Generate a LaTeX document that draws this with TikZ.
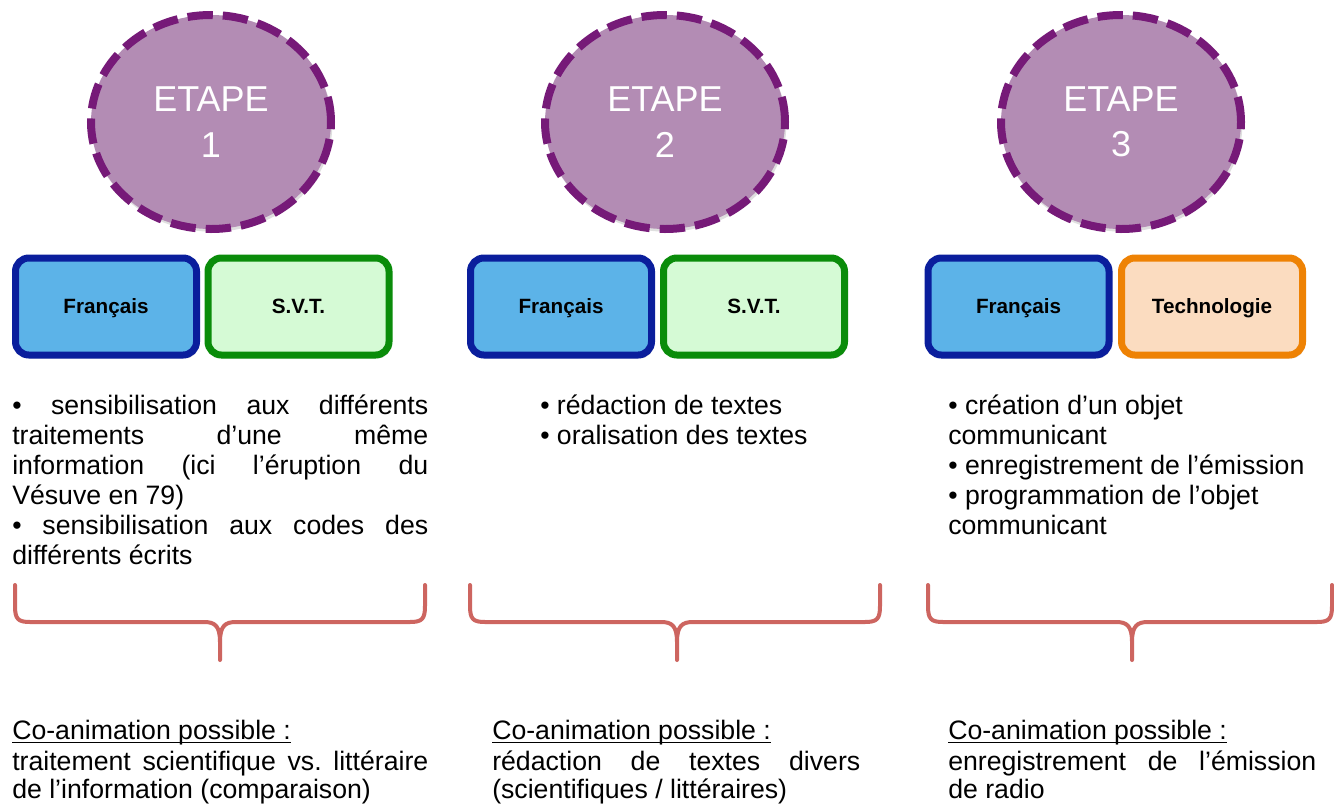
\documentclass[tikz,border=0pt]{standalone}
\usepackage{fontspec}
\setmainfont{Liberation Sans}
\frenchspacing
\usetikzlibrary{shapes.geometric,shadows}
\definecolor{ellfill}{HTML}{B38CB4}
\definecolor{elldraw}{HTML}{761A78}
\definecolor{frfill}{HTML}{5CB3E8}
\definecolor{frdraw}{HTML}{0A1E9C}
\definecolor{svtfill}{HTML}{D5FAD5}
\definecolor{svtdraw}{HTML}{0A8C0A}
\definecolor{techfill}{HTML}{FBDCC0}
\definecolor{techdraw}{HTML}{EE8204}
\definecolor{bracecol}{HTML}{CD6560}
\newcommand{\J}[2]{\makebox[#1][s]{#2}}
\tikzset{
  etape/.style={ellipse, draw=elldraw, fill=ellfill, line width=6pt,
    dash pattern=on 19pt off 7.5pt, minimum width=180pt, minimum height=160.5pt,
    text=white, align=center, font=\fontsize{27}{34}\selectfont,
    drop shadow={shadow xshift=1pt, shadow yshift=-2pt, opacity=0.25}},
  subj/.style={rectangle, rounded corners=10pt, line width=5.25pt,
    minimum width=135.75pt, minimum height=72.75pt,
    text height=12pt, text depth=2.2pt,
    font=\fontsize{15.5}{18}\selectfont\bfseries,
    drop shadow={shadow xshift=1.5pt, shadow yshift=-2.5pt, opacity=0.3}},
  fr/.style={subj, draw=frdraw, fill=frfill},
  svt/.style={subj, draw=svtdraw, fill=svtfill},
  tech/.style={subj, draw=techdraw, fill=techfill},
  txt/.style={anchor=base west, inner sep=0pt, font=\fontsize{20}{23}\selectfont},
  uline/.style={line width=1.1pt},
  brace/.style={draw=bracecol, line width=3pt, line cap=round, line join=round}
}
\begin{document}
\begin{tikzpicture}[x=0.75pt, y=-0.75pt]
\useasboundingbox (0,0) rectangle (1334,803);
\fill[white] (0,0) rectangle (1334,803);

% ellipses
\node[etape] (e1) at (211,122) {ETAPE\\1};
\node[etape] (e2) at (665,122) {ETAPE\\2};
\node[etape] (e3) at (1121,122) {ETAPE\\3};

% subject boxes
\node[fr]   (f1) at (106,306.5) {Français};
\node[svt]  (s1) at (298.5,306.5) {S.V.T.};
\node[fr]   (f2) at (561,306.5) {Français};
\node[svt]  (s2) at (754,306.5) {S.V.T.};
\node[fr]   (f3) at (1018.5,306.5) {Français};
\node[tech] (t3) at (1212,306.5) {Technologie};

% column 1 text
\node[txt] (a1) at (12,414) {\J{312pt}{• sensibilisation aux différents}};
\node[txt] (a2) at (12,444) {\J{312pt}{traitements d’une même}};
\node[txt] (a3) at (12,474) {\J{312pt}{information (ici l’éruption du}};
\node[txt] (a4) at (12,504) {Vésuve en 79)};
\node[txt] (a5) at (12,534) {\J{312pt}{• sensibilisation aux codes des}};
\node[txt] (a6) at (12,564) {différents écrits};

% column 2 text
\node[txt] (b1) at (540,414) {• rédaction de textes};
\node[txt] (b2) at (540,444) {• oralisation des textes};

% column 3 text
\node[txt] (c1) at (948,414) {• création d’un objet};
\node[txt] (c2) at (948,444) {communicant};
\node[txt] (c3) at (948,474) {• enregistrement de l’émission};
\node[txt] (c4) at (948,504) {• programmation de l’objet};
\node[txt] (c5) at (948,534) {communicant};

% braces
\draw[brace] (15,585) -- (15,606) .. controls (15,619) and (18,622) .. (30,622)
  -- (204,622) .. controls (215,622) and (220,626) .. (220,642) -- (220,660)
  (220,642) .. controls (220,626) and (225,622) .. (236,622)
  -- (410,622) .. controls (422,622) and (425,619) .. (425,606) -- (425,585);
\draw[brace] (470,585) -- (470,606) .. controls (470,619) and (473,622) .. (485,622)
  -- (661,622) .. controls (672,622) and (677,626) .. (677,642) -- (677,660)
  (677,642) .. controls (677,626) and (682,622) .. (693,622)
  -- (865,622) .. controls (877,622) and (880,619) .. (880,606) -- (880,585);
\draw[brace] (928,585) -- (928,606) .. controls (928,619) and (931,622) .. (943,622)
  -- (1116,622) .. controls (1127,622) and (1132,626) .. (1132,642) -- (1132,660)
  (1132,642) .. controls (1132,626) and (1137,622) .. (1148,622)
  -- (1317,622) .. controls (1329,622) and (1332,619) .. (1332,606) -- (1332,585);

% bottom texts
\node[txt] (d1) at (12,739) {Co-animation possible :};
\draw[uline] ([yshift=-2.5pt]d1.base west) -- ([yshift=-2.5pt]d1.base east);
\node[txt] (d2) at (12,770) {\J{312pt}{traitement scientifique vs. littéraire}};
\node[txt] (d3) at (12,798) {de l’information (comparaison)};

\node[txt] (g1) at (492,739) {Co-animation possible :};
\draw[uline] ([yshift=-2.5pt]g1.base west) -- ([yshift=-2.5pt]g1.base east);
\node[txt] (g2) at (492,770) {\J{276pt}{rédaction de textes divers}};
\node[txt] (g3) at (492,798) {(scientifiques / littéraires)};

\node[txt] (h1) at (948,739) {Co-animation possible :};
\draw[uline] ([yshift=-2.5pt]h1.base west) -- ([yshift=-2.5pt]h1.base east);
\node[txt] (h2) at (948,770) {\J{276pt}{enregistrement de l’émission}};
\node[txt] (h3) at (948,798) {de radio};
\end{tikzpicture}
\end{document}
